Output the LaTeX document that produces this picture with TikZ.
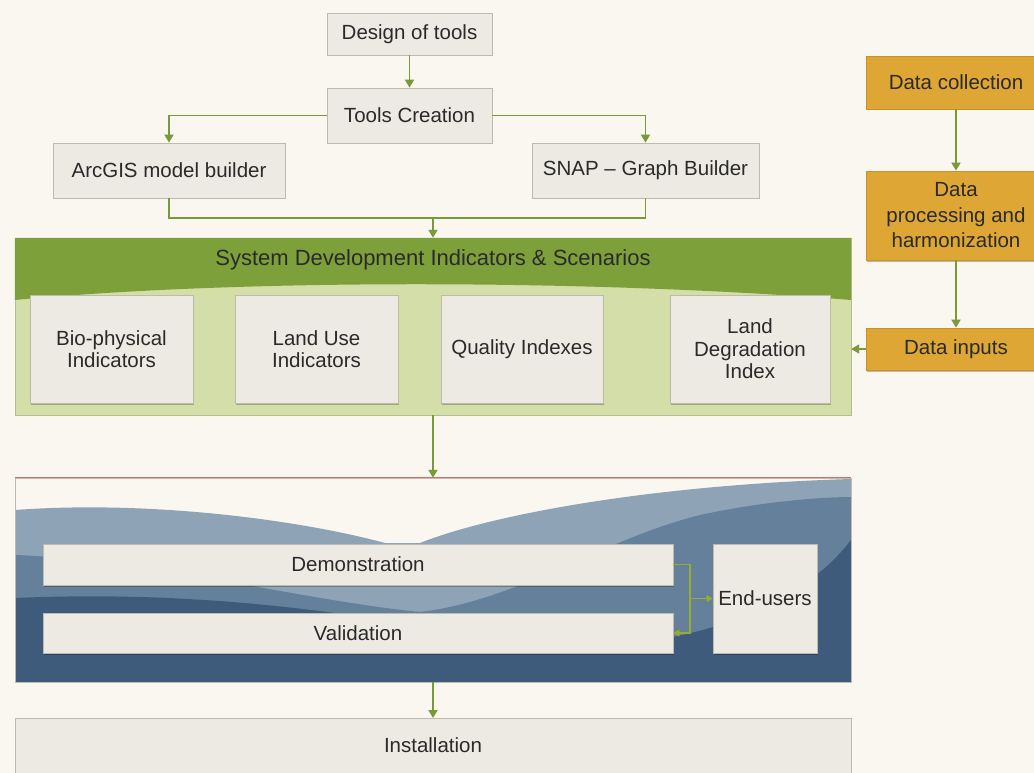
\documentclass[tikz,border=0pt]{standalone}
\usepackage{fontspec}
\setmainfont{Liberation Sans}
\usetikzlibrary{arrows.meta,shadows,calc}
\definecolor{bgc}{HTML}{FAF6F0}
\definecolor{boxf}{HTML}{EDEAE3}
\definecolor{boxd}{HTML}{BEBAAE}
\definecolor{arr}{HTML}{7A9A3A}
\definecolor{orf}{HTML}{DEA634}
\definecolor{ord}{HTML}{C99225}
\definecolor{ghead}{HTML}{7EA03A}
\definecolor{gbody}{HTML}{D4DEA8}
\definecolor{bl1}{HTML}{8FA3B6}
\definecolor{bl2}{HTML}{65809A}
\definecolor{bl3}{HTML}{3F5B7B}
\definecolor{txt}{HTML}{2A2A2A}
\tikzset{
  greybox/.style={draw=boxd, line width=0.8pt, fill=boxf, inner sep=2pt, align=center,
    text=txt, font=\fontsize{20.5}{22.5}\selectfont,
    drop shadow={shadow xshift=1.2pt, shadow yshift=-1.5pt, fill=black, opacity=0.25}},
  orbox/.style={draw=ord, line width=0.8pt, fill=orf, inner sep=2pt, align=center,
    text=txt, font=\fontsize{20.5}{25.5}\selectfont,
    drop shadow={shadow xshift=1.2pt, shadow yshift=-1.5pt, fill=black, opacity=0.25}},
  flow/.style={draw=arr, line width=1.8pt, -{Triangle[width=9pt,length=8pt]}},
  flowline/.style={draw=arr, line width=1.8pt},
  thinflow/.style={draw=arr!80!yellow, line width=1.1pt, -{Triangle[width=7pt,length=6pt]}},
}
\begin{document}
\begin{tikzpicture}[x=1pt,y=-1pt]
\useasboundingbox (0,0) rectangle (1034,773);
\clip (0,0) rectangle (1034,773);
\fill[bgc] (0,0) rectangle (1034,773);

% top nodes
\node[greybox, minimum width=165pt, minimum height=42pt] (design) at (409.5,34) {Design of tools};
\node[greybox, minimum width=165pt, minimum height=55pt] (tools) at (409.5,115.5) {Tools Creation};
\node[greybox, minimum width=232pt, minimum height=55pt] (arcgis) at (169,170.5) {ArcGIS model builder};
\node[greybox, minimum width=227pt, minimum height=55pt] (snap) at (645.5,170.5) {SNAP -- Graph Builder};

% green panel
\node[inner sep=0pt, minimum width=836pt, minimum height=177pt] (green) at (433,326.5) {};
\fill[gbody, draw=gbody!85!black, line width=0.5pt] (green.north west) rectangle (green.south east);
\fill[ghead] (green.north west) -- (green.north east) -- (851,300)
  .. controls (600,280) and (250,278) .. (15,300) -- cycle;
\node[text=txt, font=\fontsize{22}{24}\selectfont] (title) at (433,260) {System Development Indicators \& Scenarios};

\node[greybox, minimum width=163pt, minimum height=108pt] (bio) at (111.5,349) {Bio-physical\\Indicators};
\node[greybox, minimum width=163pt, minimum height=108pt] (landuse) at (316.5,349) {Land Use\\Indicators};
\node[greybox, minimum width=162pt, minimum height=108pt] (quality) at (522,349) {Quality Indexes};
\node[greybox, minimum width=160pt, minimum height=108pt] (ldi) at (750,349) {Land\\Degradation\\Index};

% orange nodes
\node[orbox, minimum width=180pt, minimum height=53pt] (collect) at (956,82.5) {Data collection};
\node[orbox, minimum width=180pt, minimum height=89pt] (process) at (956,215.5) {Data\\processing and\\harmonization};
\node[orbox, minimum width=180pt, minimum height=42pt] (inputs) at (956,349) {Data inputs};

% blue panel
\node[inner sep=0pt, minimum width=836pt, minimum height=204pt] (blue) at (433,580) {};
\begin{scope}
\clip (blue.north west) rectangle (blue.south east);
\fill[bgc] (blue.north west) rectangle (blue.south east);
\fill[bl1] (15,510) .. controls (150,500) and (300,520) .. (385,543) -- (420,543)
  .. controls (490,515) and (650,485) .. (851,479) -- (851,682) -- (15,682) -- cycle;
\fill[bl2] (15,555) .. controls (150,560) and (300,600) .. (420,612)
  .. controls (520,600) and (600,540) .. (700,515)
  .. controls (760,502) and (820,497) .. (851,497) -- (851,682) -- (15,682) -- cycle;
\fill[bl3] (15,598) .. controls (200,590) and (350,612) .. (500,640)
  .. controls (650,662) and (790,620) .. (851,540) -- (851,682) -- (15,682) -- cycle;
\end{scope}
\draw[draw=boxd, line width=0.6pt] (blue.north west) rectangle (blue.south east);
\draw[draw=red!40!boxd, line width=0.8pt] (blue.north west) -- (blue.north east);

\node[greybox, minimum width=630pt, minimum height=41pt] (demo) at (358,564.5) {Demonstration};
\node[greybox, minimum width=630pt, minimum height=40pt] (valid) at (358,633) {Validation};
\node[greybox, minimum width=104pt, minimum height=109pt] (users) at (765,598.5) {End-users};

% installation
\node[greybox, minimum width=836pt, minimum height=60pt, anchor=north] (install) at (433,718) {};
\node[text=txt, font=\fontsize{20.5}{22}\selectfont] at (433,745) {Installation};

% connectors
\draw[flow] (design) -- (tools);
\draw[flow] (tools.west) -| (arcgis.north);
\draw[flow] (tools.east) -| (snap.north);
\coordinate (j) at (433,218);
\draw[flowline] (arcgis.south) |- (j) -| (snap.south);
\draw[flow] (j) -- (j |- green.north);
\draw[flow] (collect) -- (process);
\draw[flow] (process) -- (inputs);
\draw[flow] (inputs.west) -- (inputs.west -| green.east);
\draw[flow] (green.south) -- (green.south |- blue.north);
\draw[flow] (blue.south) -- (install.north);
\coordinate (k) at (690,598.5);
\draw[thinflow] (demo.east) -| (k) -- (users.west);
\draw[thinflow] (k) |- (valid.east);
\end{tikzpicture}
\end{document}
